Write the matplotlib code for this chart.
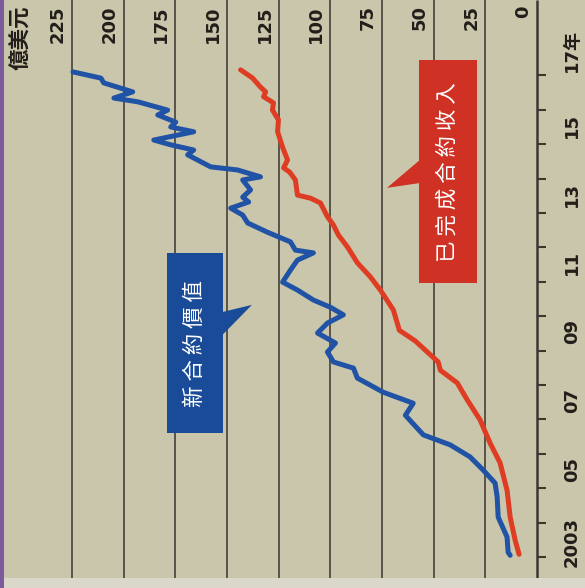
import matplotlib
matplotlib.use("Agg")
import matplotlib.pyplot as plt
from matplotlib.patches import Rectangle, Polygon
import matplotlib.transforms as mtransforms

# ---- data (year, 億美元) ----
years_new = [2003.05, 2003.14, 2003.58, 2004.16, 2004.75, 2005.15, 2005.53, 2005.91,
             2006.26, 2006.55, 2007.12, 2007.47, 2007.79, 2008.20, 2008.49, 2008.67,
             2008.96, 2009.22, 2009.51, 2009.80, 2010.04, 2010.26, 2010.47, 2010.76,
             2010.99, 2011.34, 2011.63, 2011.84, 2011.92, 2012.16, 2012.44, 2012.71,
             2012.94, 2013.14, 2013.32, 2013.46, 2013.67, 2013.96, 2014.05, 2014.25,
             2014.34, 2014.69, 2014.83, 2014.98, 2015.12, 2015.36, 2015.50, 2015.64,
             2015.85, 2015.99, 2016.23, 2016.34, 2016.52, 2016.78, 2016.92, 2017.10]
values_new = [13.0, 14.0, 14.5, 18.8, 19.3, 20.3, 26.1, 32.4,
              42.0, 55.0, 63.7, 59.9, 74.4, 86.9, 88.8, 98.5,
              101.4, 97.5, 106.2, 101.4, 93.7, 100.0, 108.2, 115.9,
              123.1, 119.3, 115.9, 108.2, 116.9, 119.3, 130.4, 140.0,
              142.4, 148.2, 139.5, 142.4, 138.6, 142.4, 133.8, 144.9,
              157.9, 169.0, 166.1, 177.2, 185.4, 166.1, 177.2, 174.8,
              183.5, 178.7, 193.1, 204.7, 195.6, 209.6, 211.0, 224.5]

years_done = [2003.08, 2003.49, 2004.16, 2004.94, 2005.74, 2006.31, 2006.98, 2007.57,
              2008.06, 2008.43, 2008.67, 2008.96, 2009.28, 2009.59, 2010.18, 2010.76,
              2011.14, 2011.55, 2012.01, 2012.36, 2012.65, 2012.89, 2013.29, 2013.43,
              2013.52, 2013.96, 2014.19, 2014.31, 2014.54, 2014.91, 2015.36, 2015.71,
              2015.99, 2016.20, 2016.38, 2016.52, 2016.66, 2016.92, 2017.16]
values_done = [8.7, 10.6, 13.0, 14.5, 17.9, 22.7, 27.5, 33.8,
               38.6, 46.8, 47.8, 53.1, 58.9, 66.6, 69.5, 75.8,
               80.6, 86.9, 91.7, 96.1, 98.5, 101.4, 104.8, 109.6,
               115.9, 116.9, 119.7, 122.6, 120.7, 123.1, 125.5, 125.1,
               128.0, 127.5, 132.3, 131.3, 133.8, 137.6, 143.4]

value_ticks = [0, 25, 50, 75, 100, 125, 150, 175, 200, 225]
year_ticks = list(range(2003, 2018))
year_label_pos = [2003.45, 2005.55, 2007.55, 2009.55, 2011.55, 2013.55, 2015.55, 2017.72]
year_labels = ["2003", "05", "07", "09", "11", "13", "15", "17年"]

label_new = "新 合 約 價 值"
label_done = "已 完 成 合 約 收 入"
unit_label = "億美元"

BG = "#c9c6ab"
GRID = "#57534a"
AXIS = "#3a3830"
TEXT = "#221f1b"
BLUE = "#2052a6"
RED = "#df3c24"
BLUE_BOX = "#1a4b98"
RED_BOX = "#cf3124"

cjk = ["Noto Sans CJK TC", "DejaVu Sans"]
num = ["DejaVu Sans", "Noto Sans CJK TC"]

fig = plt.figure(figsize=(5.85, 5.88), dpi=100, facecolor=BG)
ax = fig.add_axes([0, 0, 1, 1])
ax.set_facecolor(BG)
ax.axis("off")
ax.set_xlim(259.8, -23.2)
ax.set_ylim(2002.10, 2019.19)
y_bottom = 2002.39
y_top = 2019.19

# page strips
fig.patches.append(Rectangle((0, 0), 1, 10 / 588, transform=fig.transFigure,
                             facecolor="#d9d8cb", edgecolor="none", zorder=0))
fig.patches.append(Rectangle((0, 0), 4 / 585, 1, transform=fig.transFigure,
                             facecolor="#7b5b9c", edgecolor="none", zorder=0))

# grid and axis
ax.vlines(value_ticks[1:], y_bottom, y_top, color=GRID, lw=1.4, zorder=1)
ax.vlines(0, y_bottom, y_top, color=AXIS, lw=1.8, zorder=2)
ax.hlines(year_ticks, 0, -4.4, color=AXIS, lw=1.5, zorder=2)

# lines
ax.plot(values_new, years_new, color=BLUE, lw=3.6, zorder=4,
        solid_joinstyle="round", solid_capstyle="round")
ax.plot(values_done, years_done, color=RED, lw=3.6, zorder=3,
        solid_joinstyle="round", solid_capstyle="round")

# value labels along the top
trans = mtransforms.blended_transform_factory(ax.transData, ax.transAxes)
for v in value_ticks:
    ax.text(v + 6.8, 0.991, str(v), transform=trans, rotation=90, ha="center",
            va="top", fontsize=13, fontweight="bold", family=num, color=TEXT)
ax.text(249.6, 0.991, unit_label, transform=trans, rotation=90, ha="center",
        va="top", fontsize=15.5, fontweight="bold", family=cjk, color=TEXT)

# year labels
for yp, lab in zip(year_label_pos, year_labels):
    ax.text(-16.9, yp, lab, rotation=90, ha="center", va="center",
            fontsize=13, fontweight="bold", family=num, color=TEXT)

# callout: new contracts
ax.add_patch(Rectangle((151.9, 2006.60), 27.1, 5.24, facecolor=BLUE_BOX,
                       edgecolor="none", zorder=5))
ax.add_patch(Polygon([(152.3, 2010.12), (137.9, 2010.33), (152.3, 2009.45)],
                     closed=True, facecolor=BLUE_BOX, edgecolor="none", zorder=5))
ax.text(165.5, 2009.22, label_new, rotation=90, ha="center", va="center",
        fontsize=15.5, family=cjk, color="white", zorder=6)

# callout: completed contracts
ax.add_patch(Rectangle((29.0, 2010.97), 28.1, 6.48, facecolor=RED_BOX,
                       edgecolor="none", zorder=5))
ax.add_patch(Polygon([(56.7, 2014.54), (72.6, 2013.73), (56.7, 2013.87)],
                     closed=True, facecolor=RED_BOX, edgecolor="none", zorder=5))
ax.text(43.1, 2014.19, label_done, rotation=90, ha="center", va="center",
        fontsize=15.5, family=cjk, color="white", zorder=6)

fig.savefig("out.png", dpi=100, facecolor=BG)
